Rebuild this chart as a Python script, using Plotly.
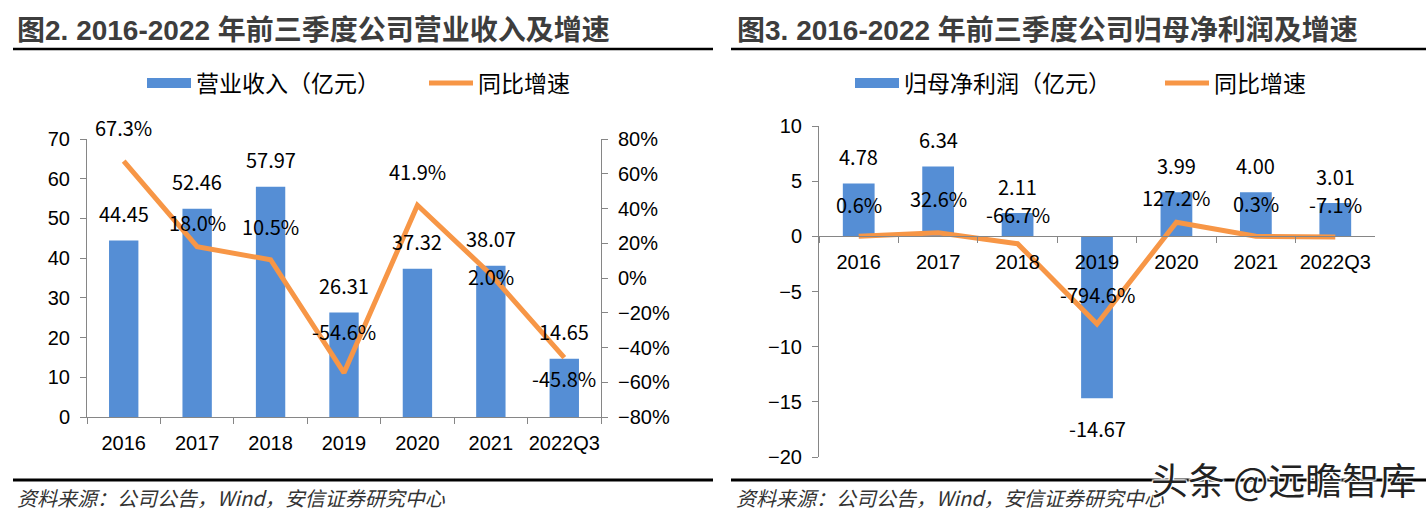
import plotly.graph_objects as go

# ---------------- data ----------------
categories = ["2016", "2017", "2018", "2019", "2020", "2021", "2022Q3"]
revenue = [44.45, 52.46, 57.97, 26.31, 37.32, 38.07, 14.65]          # 亿元
revenue_yoy = [67.3, 18.0, 10.5, -54.6, 41.9, 2.0, -45.8]            # %
profit = [4.78, 6.34, 2.11, -14.67, 3.99, 4.00, 3.01]                # 亿元
profit_yoy = [0.6, 32.6, -66.7, -794.6, 127.2, 0.3, -7.1]            # %

title_left = "图2. 2016-2022 年前三季度公司营业收入及增速"
title_right = "图3. 2016-2022 年前三季度公司归母净利润及增速"
source_text = "资料来源：公司公告，Wind，安信证券研究中心"
watermark = "头条 @远瞻智库"

# ---------------- style ----------------
W, H = 1426, 518
BLUE = "#558ED5"
ORANGE = "#F79646"
AXIS = "#868686"
CJK = "Noto Sans CJK SC"
TICKFONT = dict(family="Liberation Sans, Arial, sans-serif", size=20, color="#000000")
LABELFONT = dict(family=CJK, size=20, color="#000000")
LEGFONT = dict(family=CJK, size=23, color="#000000")

# label pixel offsets (style)
left_line_shift = [34, 24, 33, 41, 34, -2, -21]
right_line_shift = [32, 34, 29, 30, 25, 33, 33]
bar_shift_pos, bar_shift_neg = 27, -30

def px_x(x):
    return x / W

def px_y(y):
    return 1 - y / H

# plot areas (pixels)
L_dom_x = [px_x(87), px_x(601)]
L_dom_y = [px_y(417), px_y(139)]
R_dom_x = [px_x(819), px_x(1375)]
R_dom_y = [px_y(457), px_y(126)]

n_cat = len(categories)
x_range = [-0.5, n_cat - 0.5]
y1_range = [0, 70]
y2_range = [-80, 80]
y3_range = [-20, 10]
y4_range = [-2000, 1000]

fig = go.Figure()

fig.add_trace(go.Bar(x=categories, y=revenue, name="营业收入（亿元）",
                     marker=dict(color=BLUE, line=dict(width=0)), showlegend=False,
                     xaxis="x", yaxis="y", hoverinfo="skip"))
# legend swatch for the bars (wide rectangle like the original)
fig.add_trace(go.Scatter(x=[None], y=[None], name="营业收入（亿元）", mode="lines",
                         line=dict(color=BLUE, width=10), xaxis="x", yaxis="y",
                         legend="legend", hoverinfo="skip"))
fig.add_trace(go.Scatter(x=categories, y=revenue_yoy, name="同比增速", mode="lines",
                         line=dict(color=ORANGE, width=5),
                         xaxis="x", yaxis="y2", legend="legend2", hoverinfo="skip"))
fig.add_trace(go.Bar(x=categories, y=profit, name="归母净利润（亿元）",
                     marker=dict(color=BLUE, line=dict(width=0)), showlegend=False,
                     xaxis="x2", yaxis="y3", hoverinfo="skip"))
fig.add_trace(go.Scatter(x=[None], y=[None], name="归母净利润（亿元）", mode="lines",
                         line=dict(color=BLUE, width=10), xaxis="x2", yaxis="y3",
                         legend="legend3", hoverinfo="skip"))
fig.add_trace(go.Scatter(x=categories, y=profit_yoy, name="同比增速", mode="lines",
                         line=dict(color=ORANGE, width=5),
                         xaxis="x2", yaxis="y4", legend="legend4", hoverinfo="skip"))

annotations = []
for i, v in enumerate(revenue):
    annotations.append(dict(x=i, y=v, xref="x", yref="y", text=f"{v:.2f}",
                            showarrow=False, yshift=bar_shift_pos if v >= 0 else bar_shift_neg,
                            font=LABELFONT))
for i, (v, s) in enumerate(zip(revenue_yoy, left_line_shift)):
    annotations.append(dict(x=i, y=v, xref="x", yref="y2", text=f"{v:.1f}%",
                            showarrow=False, yshift=s, font=LABELFONT))
for i, v in enumerate(profit):
    annotations.append(dict(x=i, y=v, xref="x2", yref="y3", text=f"{v:.2f}",
                            showarrow=False, yshift=bar_shift_pos if v >= 0 else bar_shift_neg,
                            font=LABELFONT))
for i, (v, s) in enumerate(zip(profit_yoy, right_line_shift)):
    annotations.append(dict(x=i, y=v, xref="x2", yref="y4", text=f"{v:.1f}%",
                            showarrow=False, yshift=s, font=LABELFONT))

title_font = dict(family="Liberation Sans, " + CJK, size=28, color="#3d3d3d", weight="bold")
src_font = dict(family=CJK, size=20, color="#333333", style="italic")
annotations += [
    dict(x=px_x(15), y=px_y(31), xref="paper", yref="paper", xanchor="left", yanchor="middle",
         text=f"<b>{title_left}</b>", showarrow=False, font=title_font),
    dict(x=px_x(735), y=px_y(31), xref="paper", yref="paper", xanchor="left", yanchor="middle",
         text=f"<b>{title_right}</b>", showarrow=False, font=title_font),
    dict(x=px_x(15), y=px_y(497), xref="paper", yref="paper", xanchor="left", yanchor="middle",
         text=source_text, showarrow=False, font=src_font),
    dict(x=px_x(734), y=px_y(497), xref="paper", yref="paper", xanchor="left", yanchor="middle",
         text=source_text, showarrow=False, font=src_font),
    dict(x=px_x(1283), y=px_y(479), xref="paper", yref="paper", xanchor="center", yanchor="middle",
         text=watermark, showarrow=False,
         font=dict(family=CJK, size=37, color="#222222",
                   shadow="1px 1px 1px #ffffff, -1px -1px 1px #ffffff, 1px -1px 1px #ffffff, -1px 1px 1px #ffffff")),
]

shapes = [
    dict(type="line", xref="paper", yref="paper", x0=px_x(13), x1=px_x(713),
         y0=px_y(49), y1=px_y(49), line=dict(color="#000000", width=2.5)),
    dict(type="line", xref="paper", yref="paper", x0=px_x(731), x1=1,
         y0=px_y(49), y1=px_y(49), line=dict(color="#000000", width=2.5)),
    dict(type="line", xref="paper", yref="paper", x0=px_x(13), x1=px_x(713),
         y0=px_y(480), y1=px_y(480), line=dict(color="#000000", width=3)),
    dict(type="line", xref="paper", yref="paper", x0=px_x(731), x1=1,
         y0=px_y(480), y1=px_y(480), line=dict(color="#000000", width=3)),
]

x_common = dict(type="category", range=x_range, autorange=False, showline=True,
                linecolor=AXIS, linewidth=1,
                ticks="outside", tickson="boundaries", ticklen=6, tickcolor=AXIS,
                tickfont=TICKFONT, tickangle=0, ticklabelstandoff=8,
                showgrid=False, zeroline=False, fixedrange=True)
y_common = dict(showline=True, linecolor=AXIS, linewidth=1, ticks="outside", ticklen=6,
                tickcolor=AXIS, tickfont=TICKFONT, ticklabelstandoff=6, showgrid=False,
                zeroline=False, fixedrange=True, autorange=False)

x2_pos = R_dom_y[0] + (0 - y3_range[0]) / (y3_range[1] - y3_range[0]) * (R_dom_y[1] - R_dom_y[0])

def leg(xpx):
    return dict(orientation="h", x=px_x(xpx), xanchor="left", y=px_y(83), yanchor="middle",
                font=LEGFONT, bgcolor="rgba(0,0,0,0)", itemwidth=44,
                itemclick=False, itemdoubleclick=False)

fig.update_layout(
    width=W, height=H,
    margin=dict(l=0, r=0, t=0, b=0, pad=0, autoexpand=False),
    paper_bgcolor="white", plot_bgcolor="rgba(0,0,0,0)",
    bargap=0.6,
    xaxis=dict(domain=L_dom_x, anchor="y", **x_common),
    yaxis=dict(domain=L_dom_y, range=y1_range, dtick=10, anchor="x", **y_common),
    yaxis2=dict(range=y2_range, dtick=20, overlaying="y", side="right", anchor="x",
                ticksuffix="%", **y_common),
    xaxis2=dict(domain=R_dom_x, anchor="free", position=x2_pos, **x_common),
    yaxis3=dict(domain=R_dom_y, range=y3_range, dtick=5, anchor="x2", **y_common),
    yaxis4=dict(range=y4_range, autorange=False, overlaying="y3", visible=False, anchor="x2"),
    legend=leg(142),
    legend2=leg(424),
    legend3=leg(850),
    legend4=leg(1160),
    annotations=annotations,
    shapes=shapes,
    showlegend=True,
)

fig.write_html("out.html", config={"displayModeBar": False})
